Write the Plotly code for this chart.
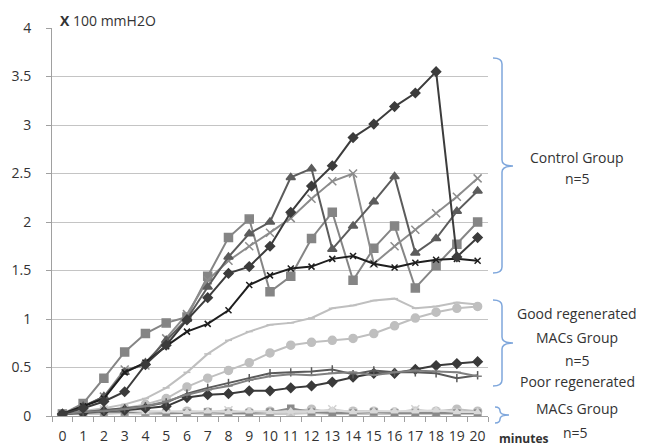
import plotly.graph_objects as go

minutes = list(range(21))
x_labels = [str(m) for m in minutes]

# Control group
ctrl_diamond = [0.02, 0.08, 0.15, 0.25, 0.53, 0.73, 0.99, 1.22, 1.47, 1.54, 1.75, 2.10, 2.37, 2.58, 2.87, 3.01, 3.19, 3.33, 3.55, 1.64, 1.84]
ctrl_triangle = [0.02, 0.10, 0.20, 0.45, 0.55, 0.78, 1.00, 1.33, 1.64, 1.88, 2.00, 2.46, 2.55, 1.72, 1.96, 2.21, 2.47, 1.68, 1.83, 2.11, 2.32]
ctrl_square = [0.02, 0.13, 0.39, 0.66, 0.85, 0.96, 1.02, 1.44, 1.84, 2.03, 1.28, 1.44, 1.83, 2.10, 1.40, 1.73, 1.96, 1.32, 1.55, 1.77, 2.00]
ctrl_x = [0.02, 0.10, 0.20, 0.48, 0.52, 0.80, 1.05, 1.40, 1.60, 1.75, 1.89, 2.04, 2.24, 2.42, 2.50, 1.57, 1.75, 1.92, 2.09, 2.26, 2.45]
ctrl_black = [0.02, 0.10, 0.18, 0.45, 0.55, 0.72, 0.87, 0.95, 1.09, 1.35, 1.45, 1.52, 1.54, 1.62, 1.65, 1.57, 1.53, 1.58, 1.61, 1.62, 1.60]

# Good regenerated group
good_line = [0.02, 0.05, 0.08, 0.12, 0.18, 0.29, 0.45, 0.64, 0.78, 0.87, 0.94, 0.96, 1.01, 1.11, 1.14, 1.19, 1.21, 1.11, 1.13, 1.17, 1.15]
good_circle = [0.02, 0.04, 0.06, 0.08, 0.12, 0.18, 0.30, 0.39, 0.47, 0.55, 0.65, 0.73, 0.76, 0.78, 0.80, 0.85, 0.93, 1.01, 1.07, 1.11, 1.13]
good_diamond = [0.02, 0.03, 0.05, 0.06, 0.08, 0.10, 0.19, 0.22, 0.23, 0.26, 0.26, 0.29, 0.31, 0.35, 0.40, 0.44, 0.44, 0.48, 0.52, 0.54, 0.56]
good_plus = [0.02, 0.04, 0.06, 0.08, 0.10, 0.14, 0.23, 0.29, 0.34, 0.39, 0.44, 0.45, 0.46, 0.48, 0.43, 0.47, 0.45, 0.45, 0.44, 0.39, 0.42]
good_dash = [0.02, 0.04, 0.05, 0.07, 0.10, 0.15, 0.22, 0.27, 0.31, 0.37, 0.41, 0.43, 0.42, 0.44, 0.45, 0.42, 0.45, 0.47, 0.46, 0.45, 0.41]

# Poor regenerated group
poor_square = [0.02, 0.02, 0.02, 0.03, 0.02, 0.02, 0.03, 0.02, 0.02, 0.02, 0.02, 0.02, 0.03, 0.02, 0.02, 0.02, 0.02, 0.02, 0.02, 0.02, 0.02]
poor_circle = [0.02, 0.03, 0.04, 0.04, 0.05, 0.04, 0.05, 0.04, 0.04, 0.04, 0.05, 0.05, 0.07, 0.04, 0.05, 0.05, 0.04, 0.05, 0.05, 0.07, 0.05]
poor_x = [0.02, 0.04, 0.07, 0.04, 0.04, 0.03, 0.04, 0.04, 0.06, 0.03, 0.04, 0.04, 0.04, 0.07, 0.04, 0.04, 0.03, 0.07, 0.04, 0.04, 0.03]
poor_dsquare = [0.02, 0.03, 0.04, 0.04, 0.04, 0.03, 0.03, 0.04, 0.03, 0.03, 0.04, 0.08, 0.04, 0.03, 0.03, 0.04, 0.03, 0.03, 0.03, 0.03, 0.03]
poor_triangle = [0.02, 0.03, 0.05, 0.06, 0.04, 0.05, 0.04, 0.05, 0.04, 0.05, 0.04, 0.05, 0.05, 0.06, 0.04, 0.05, 0.05, 0.05, 0.06, 0.04, 0.04]

y_ticks = [0, 0.5, 1, 1.5, 2, 2.5, 3, 3.5, 4]

series = [
    # poor first (bottom layer)
    (poor_square, "#c8c8c8", "square", 7),
    (poor_circle, "#c0c0c0", "circle", 8),
    (poor_x, "#d2d2d2", "x-thin-open", 8),
    (poor_dsquare, "#8a8a8a", "square", 6),
    (poor_triangle, "#d9d9d9", "triangle-up", 6),
    # good
    (good_line, "#bfbfbf", "line-ew-open", 5),
    (good_circle, "#bfbfbf", "circle", 8),
    (good_diamond, "#3a3a3a", "diamond", 7),
    (good_plus, "#5a5a5a", "line-ns-open", 6),
    (good_dash, "#808080", "line-ew-open", 6),
    # control
    (ctrl_square, "#858585", "square", 8),
    (ctrl_x, "#8c8c8c", "x-thin-open", 8),
    (ctrl_triangle, "#5c5c5c", "triangle-up", 8),
    (ctrl_black, "#1e1e1e", "x-thin-open", 6),
    (ctrl_diamond, "#3c3c3c", "diamond", 7),
]

fig = go.Figure()
for vals, col, sym, size in series:
    fig.add_trace(go.Scatter(
        x=minutes, y=vals, mode="lines+markers",
        line=dict(color=col, width=2),
        marker=dict(symbol=sym, size=size, color=col, line=dict(color=col, width=1.5)),
        showlegend=False, hoverinfo="skip",
    ))

L, R, T, B = 52, 158, 28, 31
W, H = 646, 447
pw, ph = W - L - R, H - T - B

def px(xp):
    return (xp - L) / pw

def py(yp):
    return (H - B - yp) / ph

fig.update_layout(
    width=W, height=H,
    margin=dict(l=L, r=R, t=T, b=B, pad=0, autoexpand=False),
    paper_bgcolor="white", plot_bgcolor="white",
    font=dict(family="Open Sans, Noto Sans, sans-serif", color="#333333"),
    xaxis=dict(
        range=[-0.5, 20.5], tickmode="array", tickvals=minutes, ticktext=x_labels,
        showgrid=False, zeroline=False, showline=True, linecolor="#a0a0a0", linewidth=1,
        automargin=False,
        ticks="", tickfont=dict(size=14, color="#333333"), ticklabelstandoff=7,
        minor=dict(tickmode="linear", tick0=-0.5, dtick=1, ticks="outside", ticklen=5,
                   tickcolor="#a0a0a0", showgrid=False),
    ),
    yaxis=dict(
        range=[0, 4], tickmode="array", tickvals=y_ticks,
        showgrid=True, gridcolor="#c4c4c4", gridwidth=1, zeroline=False,
        showline=True, linecolor="#a0a0a0", linewidth=1, automargin=False,
        ticks="outside", ticklen=5, tickcolor="#a0a0a0",
        tickfont=dict(size=14, color="#333333"), ticklabelstandoff=12,
    ),
)

# brackets
bc = "#7fa7dc"
def brace(ytop, ybot, ymid, xa=493, xb=502, xc=513):
    x0, x1, x2 = px(xa), px(xb), px(xc)
    d = min(6, (ybot - ytop) / 4) / ph
    a, b, m = py(ytop), py(ybot), py(ymid)
    path = (f"M {x0},{a} Q {x1},{a} {x1},{a-d} L {x1},{m+d} Q {x1},{m} {x2},{m} "
            f"Q {x1},{m} {x1},{m-d} L {x1},{b+d} Q {x1},{b} {x0},{b}")
    fig.add_shape(type="path", path=path, xref="paper", yref="paper",
                  line=dict(color=bc, width=1.5))

brace(58, 273, 166)
brace(300, 386, 343)
brace(407, 423, 415, xa=495, xb=500, xc=509)

def label(text, xp, yp, size=14, anchor="center"):
    fig.add_annotation(text=text, xref="paper", yref="paper", x=px(xp), y=py(yp),
                       xanchor=anchor, yanchor="middle", showarrow=False,
                       font=dict(size=size, color="#333333"))

label("Control Group", 577, 157)
label("n=5", 577, 179)
label("Good regenerated", 577, 313)
label("MACs Group", 577, 337)
label("n=5", 577, 360)
label("Poor regenerated", 577, 381)
label("MACs Group", 577, 408)
label("n=5", 575, 432)
label("<b>X</b> 100 mmH2O", 58, 20, size=14, anchor="left")
label("<b>minutes</b>", 497, 438, size=12, anchor="left")

fig.write_html("out.html", config={"displayModeBar": False},
               post_script="document.body.style.margin='0';")
